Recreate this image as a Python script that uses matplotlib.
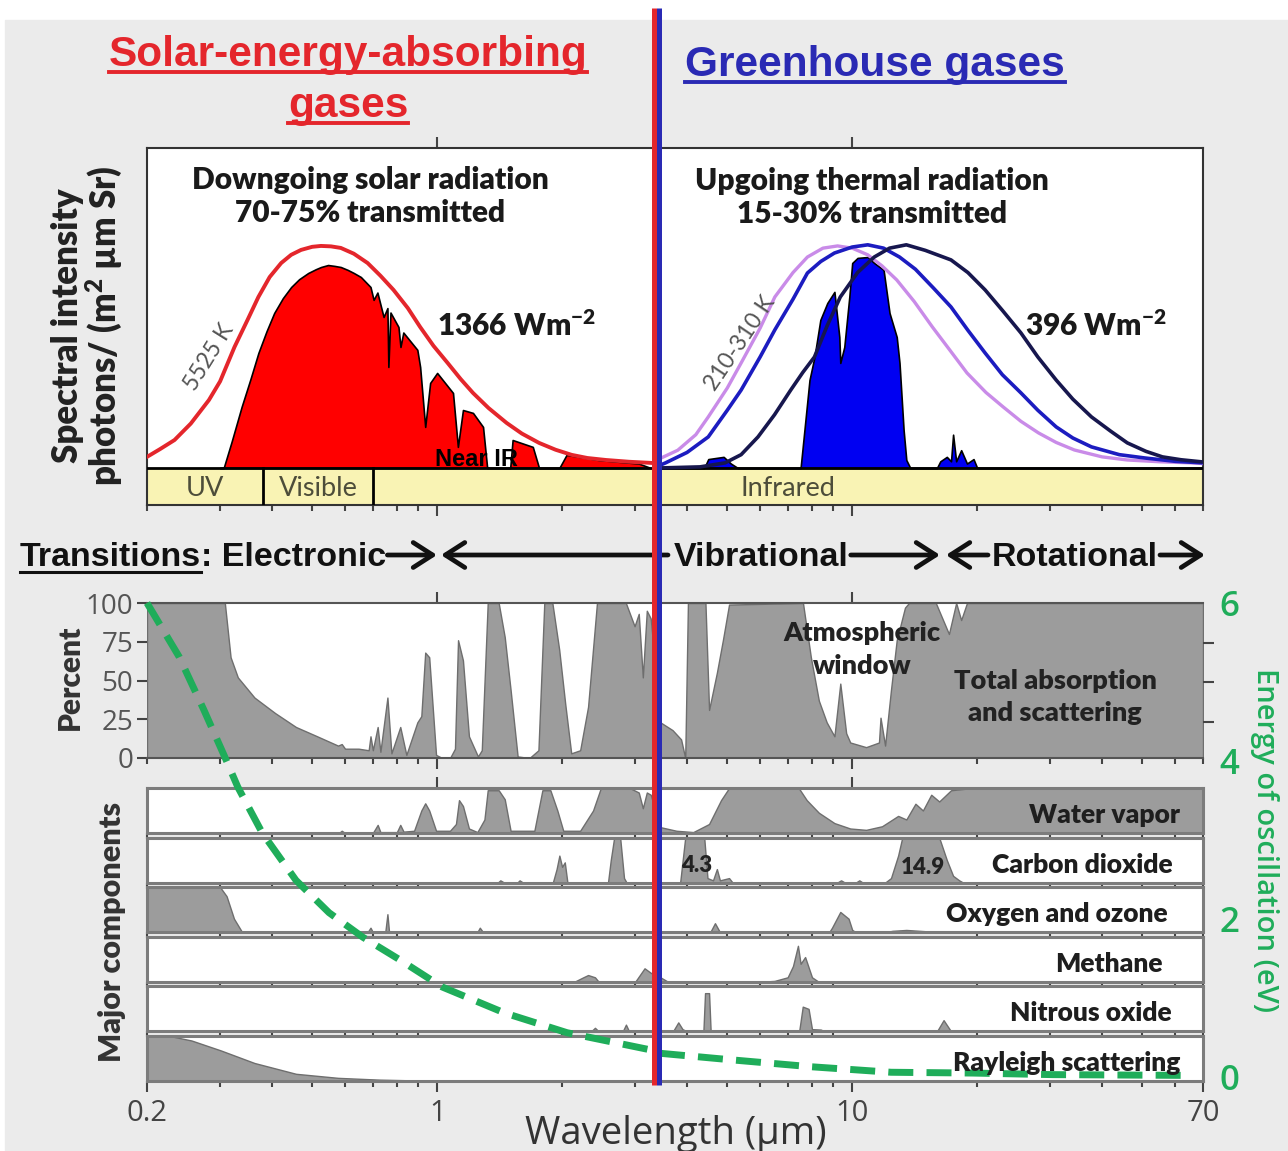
import numpy as np
import matplotlib.pyplot as plt
from matplotlib.lines import Line2D
from matplotlib.patches import Rectangle, FancyArrowPatch

plt.rcParams['font.family'] = ['Lato', 'DejaVu Sans']
plt.rcParams['mathtext.default'] = 'regular'

# ---------------- data (wavelength in micrometres) ----------------
# black-body curves, normalised to peak = 1
sun_bb_wl = [0.2, 0.215, 0.233, 0.255, 0.282, 0.3, 0.325, 0.35, 0.371, 0.395, 0.421, 0.445,
             0.47, 0.5, 0.525, 0.555, 0.586, 0.63, 0.68, 0.73, 0.785, 0.85, 0.91, 0.98, 1.06,
             1.14, 1.22, 1.33, 1.47, 1.6, 1.76, 1.93, 2.11, 2.3, 2.55, 2.9, 3.27]
sun_bb_val = [0.05, 0.085, 0.126, 0.2, 0.306, 0.39, 0.545, 0.67, 0.77, 0.86, 0.923, 0.96,
              0.982, 0.996, 1.0, 0.998, 0.991, 0.965, 0.923, 0.866, 0.802, 0.72, 0.635, 0.55,
              0.473, 0.4, 0.338, 0.27, 0.203, 0.155, 0.113, 0.082, 0.059, 0.045, 0.036, 0.028,
              0.023]

# transmitted solar spectrum
sun_wl = [0.3, 0.306, 0.32, 0.338, 0.355, 0.371, 0.388, 0.405, 0.425, 0.445, 0.465, 0.489,
          0.51, 0.525, 0.546, 0.566, 0.586, 0.609, 0.63, 0.655, 0.691, 0.703, 0.718, 0.743,
          0.759, 0.763, 0.772, 0.807, 0.816, 0.829, 0.896, 0.91, 0.936, 0.962, 1.0, 1.092,
          1.122, 1.154, 1.22, 1.29, 1.32, 1.5, 1.52, 1.7, 1.76, 1.97, 2.05, 2.45, 3.06, 3.27]
sun_val = [0.0, 0.0, 0.12, 0.275, 0.4, 0.518, 0.615, 0.698, 0.765, 0.815, 0.85, 0.878,
           0.895, 0.905, 0.914, 0.91, 0.905, 0.892, 0.878, 0.86, 0.815, 0.757, 0.79, 0.68,
           0.72, 0.455, 0.7, 0.635, 0.545, 0.61, 0.532, 0.455, 0.185, 0.383, 0.428, 0.338,
           0.095, 0.261, 0.248, 0.185, 0.0, 0.0, 0.126, 0.095, 0.0, 0.0, 0.059, 0.036, 0.02,
           0.0]

bb210_wl = [3.42, 3.8, 4.2, 4.5, 5.0, 5.4, 6.0, 6.51, 7.2, 7.8, 8.5, 9.22, 10.0, 10.9, 11.8,
            12.8, 14.1, 15.6, 17.2, 18.9, 21.0, 23.1, 25.5, 28.1, 31.0, 34.3, 40.0, 46.0,
            55.0, 65.5, 70]
bb210_val = [0.04, 0.08, 0.15, 0.23, 0.36, 0.473, 0.63, 0.77, 0.88, 0.95, 0.99, 1.0, 0.99,
             0.96, 0.91, 0.847, 0.75, 0.635, 0.53, 0.428, 0.34, 0.275, 0.21, 0.158, 0.115,
             0.081, 0.05, 0.036, 0.028, 0.023, 0.02]
bb260_wl = [3.42, 3.55, 4.0, 4.5, 5.0, 5.4, 6.0, 6.51, 7.2, 7.8, 8.4, 9.06, 10.0, 10.9, 11.9,
            13.0, 14.2, 15.7, 17.3, 19.0, 20.9, 23.0, 25.5, 28.0, 31.0, 34.0, 37.7, 44.0,
            50.7, 60.0, 70]
bb260_val = [0.01, 0.023, 0.07, 0.14, 0.26, 0.351, 0.5, 0.622, 0.76, 0.878, 0.93, 0.968,
             0.995, 1.005, 0.99, 0.95, 0.895, 0.81, 0.725, 0.62, 0.518, 0.42, 0.338, 0.26,
             0.185, 0.135, 0.095, 0.06, 0.045, 0.03, 0.023]
bb310_wl = [3.42, 4.3, 4.94, 5.4, 5.93, 6.5, 7.11, 7.6, 8.11, 8.7, 9.36, 10.3, 11.3, 12.3,
            13.5, 15.0, 17.3, 19.0, 20.9, 23.0, 25.5, 28.0, 31.0, 34.0, 37.7, 42.0, 46.0,
            51.0, 55.9, 62.0, 70]
bb310_val = [0.0, 0.005, 0.023, 0.06, 0.14, 0.24, 0.351, 0.43, 0.5, 0.64, 0.77, 0.88, 0.95,
             0.99, 1.005, 0.98, 0.937, 0.88, 0.802, 0.71, 0.608, 0.5, 0.396, 0.31, 0.23,
             0.165, 0.113, 0.075, 0.05, 0.037, 0.027]

# transmitted thermal spectrum
ir_wl = [3.42, 4.4, 4.5, 4.9, 5.1, 5.3, 7.51, 7.89, 8.11, 8.38, 8.71, 9.06, 9.31, 9.36,
         9.57, 9.84, 10.0, 10.3, 10.9, 11.3, 11.9, 12.3, 12.8, 13.0, 13.3, 13.5, 13.8, 16.0,
         16.3, 16.9, 17.3, 17.5, 17.8, 18.3, 18.9, 19.6, 20.0, 70]
ir_val = [0.0, 0.0, 0.04, 0.05, 0.02, 0.0, 0.0, 0.396, 0.5, 0.667, 0.743, 0.793, 0.59, 0.473,
          0.545, 0.77, 0.923, 0.946, 0.95, 0.923, 0.892, 0.698, 0.59, 0.473, 0.17, 0.036, 0.0,
          0.0, 0.03, 0.05, 0.03, 0.15, 0.03, 0.08, 0.02, 0.04, 0.0, 0.0]

band_edges = [0.38, 0.70]

# total absorption and scattering (percent)
tot_wl = [0.2, 0.301, 0.308, 0.318, 0.331, 0.363, 0.407, 0.457, 0.514, 0.577, 0.589, 0.6,
          0.647, 0.684, 0.691, 0.7, 0.719, 0.73, 0.759, 0.776, 0.815, 0.843, 0.896, 0.916,
          0.936, 0.957, 0.994, 1.028, 1.074, 1.104, 1.123, 1.154, 1.193, 1.254, 1.281, 1.324,
          1.407, 1.455, 1.503, 1.563, 1.669, 1.754, 1.812, 1.895, 1.968, 2.035, 2.104, 2.211,
          2.31, 2.427, 2.849, 2.99, 3.06, 3.13, 3.2, 3.27, 3.45, 3.69, 3.87, 3.96, 4.02, 4.43,
          4.52, 4.72, 4.88, 5.05, 7.61, 7.95, 8.31, 8.68, 9.06, 9.36, 9.67, 9.89, 10.8, 11.6,
          11.7, 12.0, 12.4, 12.8, 13.4, 13.7, 15.9, 17.1, 17.8, 18.3, 18.9, 70]
tot_val = [100, 100, 100, 65, 52, 39, 29, 20, 14, 8, 9, 6,
           6, 5, 14, 5, 20, 4, 39, 3, 20, 2, 23, 27,
           68, 65, 2, 0, 0, 6, 76, 63, 14, 1, 5, 100,
           100, 78, 44, 1, 0, 5, 100, 100, 70, 35, 3, 5,
           33, 100, 100, 85, 93, 52, 95, 90, 23, 18, 12, 0, 100, 100,
           31, 55, 76, 99, 100, 65, 37, 23, 14, 48, 16, 10, 7, 10,
           26, 8, 44, 76, 97, 100, 100, 80, 100, 89, 100, 100]

# major components (fraction of strip height)
h2o_wl = [0.2, 0.58, 0.589, 0.6, 0.7, 0.719, 0.73, 0.8, 0.815, 0.83, 0.88, 0.916, 0.936,
          0.957, 0.994, 1.074, 1.11, 1.129, 1.154, 1.193, 1.25, 1.3, 1.324, 1.407, 1.455,
          1.503, 1.715, 1.793, 1.874, 1.948, 2.013, 2.211, 2.375, 2.48, 2.91, 3.06, 3.13,
          3.2, 3.27, 3.45, 3.77, 4.14, 4.52, 4.83, 5.05, 7.43, 7.77, 8.31, 9.06, 9.89, 10.8,
          11.8, 12.9, 13.5, 14.2, 14.8, 15.5, 16.2, 17.3, 19.5, 70]
h2o_val = [0, 0, 0.05, 0, 0, 0.18, 0.02, 0.02, 0.18, 0.03, 0.05, 0.5, 0.66,
           0.5, 0.05, 0.05, 0.2, 0.73, 0.6, 0.1, 0.02, 0.3, 0.95, 0.95, 0.75,
           0.05, 0.05, 0.95, 0.95, 0.5, 0.05, 0.05, 0.5, 1.0, 1.0, 0.9, 0.55,
           0.9, 0.85, 0.13, 0.05, 0.02, 0.2, 0.73, 1.0, 1.0, 0.73, 0.45, 0.22, 0.1, 0.07,
           0.15, 0.38, 0.3, 0.65, 0.5, 0.85, 0.7, 0.95, 1.0, 1.0]
co2_wl = [0.2, 1.4, 1.42, 1.45, 1.56, 1.58, 1.61, 1.9, 1.94, 1.97, 2.0, 2.03, 2.06, 2.58,
          2.62, 2.67, 2.76, 2.82, 2.86, 3.85, 3.96, 4.4, 4.48, 4.62, 4.72, 4.8, 5.05, 5.15,
          9.2, 9.4, 9.6, 10.2, 10.4, 10.6, 12.0, 12.4, 12.9, 13.2, 16.2, 16.9, 17.5, 18.1,
          18.5, 70]
co2_val = [0, 0, 0.05, 0, 0, 0.05, 0, 0, 0.3, 0.6, 0.35, 0.45, 0, 0,
           0.5, 1.0, 1.0, 0.1, 0, 0, 1.0, 1.0, 0.1, 0.05, 0.3, 0.05, 0.1, 0,
           0, 0.05, 0, 0, 0.05, 0, 0, 0.1, 0.6, 1.0, 1.0, 0.5, 0.15, 0.05,
           0, 0]
o3_wl = [0.2, 0.3, 0.311, 0.324, 0.338, 0.35, 0.68, 0.691, 0.7, 0.75, 0.759, 0.766, 1.25,
         1.267, 1.29, 4.55, 4.67, 4.8, 8.8, 8.94, 9.36, 9.8, 10.0, 10.2, 12.0, 12.5, 13.5,
         15.1, 15.5, 70]
o3_val = [1.0, 1.0, 0.8, 0.3, 0.02, 0, 0, 0.1, 0, 0, 0.4, 0, 0,
          0.1, 0, 0, 0.2, 0, 0, 0.1, 0.45, 0.3, 0.05, 0, 0, 0.03, 0.05,
          0.02, 0, 0]
ch4_wl = [0.2, 2.14, 2.25, 2.31, 2.4, 2.45, 3.0, 3.16, 3.27, 3.45, 3.6, 6.0, 6.5, 6.99,
          7.2, 7.4, 7.51, 7.7, 8.0, 8.3, 70]
ch4_val = [0, 0, 0.1, 0.15, 0.1, 0, 0, 0.3, 0.2, 0.1, 0, 0, 0.02, 0.1,
           0.35, 0.8, 0.4, 0.55, 0.1, 0, 0]
n2o_wl = [0.2, 2.35, 2.4, 2.45, 2.8, 2.85, 2.9, 3.7, 3.81, 3.9, 4.0, 4.38, 4.42, 4.52,
          4.56, 7.45, 7.6, 7.85, 8.0, 8.4, 8.6, 16.0, 16.6, 17.3, 70]
n2o_val = [0, 0, 0.08, 0, 0, 0.15, 0, 0, 0.2, 0.05, 0, 0, 0.85, 0.85,
           0, 0, 0.55, 0.5, 0.05, 0.04, 0, 0, 0.25, 0, 0]
ray_wl = [0.2, 0.227, 0.256, 0.301, 0.363, 0.457, 0.577, 0.727, 0.916, 1.2, 70]
ray_val = [1.0, 1.0, 0.9, 0.68, 0.4, 0.16, 0.07, 0.03, 0.01, 0, 0]

components = [("Water vapor", h2o_wl, h2o_val),
              ("Carbon dioxide", co2_wl, co2_val),
              ("Oxygen and ozone", o3_wl, o3_val),
              ("Methane", ch4_wl, ch4_val),
              ("Nitrous oxide", n2o_wl, n2o_val),
              ("Rayleigh scattering", ray_wl, ray_val)]
label_right = [1180, 1173, 1168, 1163, 1172, 1180]

# photon energy (eV)
en_wl = [0.2, 0.239, 0.274, 0.308, 0.331, 0.379, 0.457, 0.549, 0.662, 0.815, 1.028, 1.455,
         2.058, 3.29, 3.45, 5.05, 7.95, 12.4, 19.5, 30.4, 65]
en_val = [6.0, 5.32, 4.65, 4.05, 3.67, 3.09, 2.49, 2.08, 1.77, 1.48, 1.14, 0.81,
          0.56, 0.34, 0.3, 0.22, 0.13, 0.06, 0.05, 0.03, 0.02]

# ---------------- figure ----------------
W, H = 1288, 1151
fig = plt.figure(figsize=(W / 100, H / 100), dpi=100)
fig.patch.set_facecolor('white')
fig.add_artist(Rectangle((5 / W, 0), 1, 1 - 20 / H, transform=fig.transFigure,
                         color='#ebebeb', zorder=-10))


def box(l, t, r, b):
    return [l / W, 1 - b / H, (r - l) / W, (b - t) / H]


def put(x, y, s, **kw):
    return fig.text(x / W, 1 - y / H, s, **kw)


def logx(ax):
    ax.set_xscale('log')
    ax.set_xlim(0.2, 70)
    ax.tick_params(which='both', direction='out', colors='#444', labelbottom=False)
    ax.tick_params(which='major', length=8, width=1.5)
    ax.tick_params(which='minor', length=4, width=1.5)


RED = '#e4262c'
BLUE = '#2a2ab4'
GREEN = '#1fad5a'
HEAVY = 'heavy'

# ---- spectra panel ----
ax = fig.add_axes(box(147, 148, 1203, 505))
logx(ax)
ax.set_ylim(-0.1667, 1.441)
ax.set_yticks([])
ax.tick_params(top=True, bottom=True)
for s in ax.spines.values():
    s.set_color('#333')
    s.set_linewidth(1.5)
ax.axhspan(-0.1667, 0, color='#f9f3b4', zorder=1)
ax.axhline(0, color='k', lw=2, zorder=3)
for e in band_edges:
    ax.plot([e, e], [-0.1667, 0], color='k', lw=2, zorder=3)
ax.fill_between(sun_wl, 0, sun_val, facecolor='#ff0000', edgecolor='k', lw=1.2, zorder=2)
ax.plot(sun_bb_wl, sun_bb_val, color=RED, lw=2.8, zorder=4)
ax.fill_between(ir_wl, 0, ir_val, facecolor='#0000f2', edgecolor='k', lw=1.2, zorder=2)
ax.plot(bb210_wl, bb210_val, color='#c98be8', lw=2.4, zorder=4)
ax.plot(bb260_wl, bb260_val, color='#1c1cc0', lw=2.6, zorder=4)
ax.plot(bb310_wl, bb310_val, color='#17174e', lw=2.6, zorder=4)

tk = dict(color='#1a1a1a', fontsize=21.5, fontweight=HEAVY, ha='center', va='center')
put(370, 180, 'Downgoing solar radiation', **tk)
put(370, 213, '70-75% transmitted', **tk)
put(872, 181, 'Upgoing thermal radiation', **tk)
put(872, 214, '15-30% transmitted', **tk)
put(517, 326, '1366 Wm$^{-2}$', **tk)
put(1096, 326, '396 Wm$^{-2}$', **tk)
put(209, 357, '5525 K', color='#555', fontsize=16.5, rotation=58, ha='center', va='center')
put(740, 343, '210-310 K', color='#555', fontsize=16.5, rotation=56, ha='center',
    va='center')
put(476, 459, 'Near IR', family='Liberation Sans', fontweight='bold', fontsize=17,
    ha='center', va='center', color='k', zorder=10)
bk = dict(color='#4d4d3a', fontsize=19.5, ha='center', va='center')
put(205, 488, 'UV', **bk)
put(318, 488, 'Visible', **bk)
put(788, 488, 'Infrared', **bk)

lab = dict(rotation=90, fontsize=25, fontweight=HEAVY, color='#222', ha='center',
           va='center')
put(68, 326, 'Spectral intensity', **lab)
put(104, 326, 'photons/ (m$^2$ µm Sr)', **lab)

# ---- total absorption panel ----
axp = fig.add_axes(box(147, 603, 1203, 758))
logx(axp)
axp.set_ylim(0, 100)
axp.tick_params(top=True, bottom=True)
axp.fill_between(tot_wl, 0, tot_val, facecolor='#9c9c9c', edgecolor='#6e6e6e', lw=1)
axp.set_yticks([0, 25, 50, 75, 100])
axp.tick_params(axis='y', which='major', length=7, width=1.5, labelsize=20,
                labelcolor='#555', pad=3)
for t in axp.get_yticklabels():
    t.set_family(['Open Sans', 'DejaVu Sans'])
for k in ['top', 'bottom']:
    axp.spines[k].set_color('#555')
    axp.spines[k].set_linewidth(1.5)
for k in ['left', 'right']:
    axp.spines[k].set_visible(False)
put(70, 677, 'Percent', rotation=90, fontsize=21.5, fontweight=HEAVY, color='#333',
    ha='center', va='center')
ak = dict(color='#222', fontsize=19.5, fontweight=HEAVY, ha='center', va='center')
put(862, 633, 'Atmospheric', **ak)
put(862, 666, 'window', **ak)
put(1055, 681, 'Total absorption', **ak)
put(1055, 713, 'and scattering', **ak)

# ---- component strips ----
for i, (name, wl, val) in enumerate(components):
    top = 788 + i * 49.6
    axs = fig.add_axes(box(147, top, 1203, top + 45))
    logx(axs)
    axs.set_ylim(0, 1)
    axs.set_yticks([])
    axs.tick_params(top=(i == 0), bottom=(i == len(components) - 1))
    axs.fill_between(wl, 0, val, facecolor='#9c9c9c', edgecolor='#6e6e6e', lw=1)
    for s in axs.spines.values():
        s.set_color('#7c7c7c')
        s.set_linewidth(2.2)
    put(label_right[i], top + 27, name, color='#1e1e1e', fontsize=19, fontweight=HEAVY,
        ha='right', va='center', zorder=5)
    if i == len(components) - 1:
        axs.set_xticks([0.2, 1, 10, 70])
        axs.set_xticklabels(['0.2', '1', '10', '70'])
        axs.tick_params(axis='x', which='major', labelbottom=True, labelsize=21,
                        labelcolor='#444', pad=5)
        for t in axs.get_xticklabels():
            t.set_family(['Open Sans', 'DejaVu Sans'])
put(697, 866, '4.3', color='#222', fontsize=16, fontweight=HEAVY, ha='center',
    va='center', zorder=5)
put(923, 868, '14.9', color='#222', fontsize=16, fontweight=HEAVY, ha='center',
    va='center', zorder=5)
put(112, 932, 'Major components', rotation=90, fontsize=22, fontweight=HEAVY,
    color='#333', ha='center', va='center')
put(676, 1134, 'Wavelength (μm)', family=['Open Sans', 'DejaVu Sans'], fontsize=27.5,
    color='#333', ha='center', va='center')

# ---- energy of oscillation ----
axe = fig.add_axes(box(147, 603, 1203, 1077))
axe.patch.set_visible(False)
axe.set_xscale('log')
axe.set_xlim(0.2, 70)
axe.set_ylim(0, 6)
axe.plot(en_wl, en_val, color=GREEN, lw=5, ls=(0, (3.6, 1.9)), solid_capstyle='butt',
         clip_on=False)
for s in axe.spines.values():
    s.set_visible(False)
axe.set_xticks([])
axe.xaxis.set_minor_locator(plt.NullLocator())
axe.yaxis.tick_right()
axe.set_yticks([0, 2, 4, 6])
axe.set_yticks([4, 4.5, 5, 5.5, 6], minor=True)
axe.tick_params(axis='y', which='major', length=0, pad=12, labelsize=25,
                labelcolor=GREEN)
axe.tick_params(axis='y', which='minor', length=8, width=1.5, color='#444')
for t in axe.get_yticklabels():
    t.set_family(['Open Sans', 'DejaVu Sans'])
    t.set_fontweight('semibold')
put(1264, 840, 'Energy of oscillation (eV)', rotation=-90, color=GREEN, fontsize=21,
    family=['Open Sans', 'DejaVu Sans'], fontweight='semibold', ha='center', va='center')

# ---- headings ----
fig.canvas.draw()
rend = fig.canvas.get_renderer()


def underline(t, off, lw):
    bb = t.get_window_extent(rend)
    y = (t.get_position()[1] * H - off) / H
    fig.add_artist(Line2D([bb.x0 / W, bb.x1 / W], [y, y], color=t.get_color(), lw=lw,
                          transform=fig.transFigure))


hk = dict(family=['Liberation Sans', 'DejaVu Sans'], fontweight='bold', fontsize=30.5,
          ha='center', va='baseline')
t1 = put(348, 66, 'Solar-energy-absorbing', color=RED, **hk)
t2 = put(348, 117, 'gases', color=RED, **hk)
t3 = put(875, 76, 'Greenhouse gases', color=BLUE, **hk)
for t in (t1, t2, t3):
    underline(t, 6, 2.8)

# ---- transitions row ----
tr = dict(family=['Liberation Sans', 'DejaVu Sans'], fontweight='bold', fontsize=24.5,
          color='#111', va='baseline')
ty = 566
ta = put(20, ty, 'Transitions', **tr)
underline(ta, 6, 2.2)
te = put(ta.get_window_extent(rend).x1, ty, ': Electronic', **tr)
tv = put(674, ty, 'Vibrational', **tr)
trt = put(992, ty, 'Rotational', **tr)
e_end = te.get_window_extent(rend).x1
v_end = tv.get_window_extent(rend).x1
r_end = trt.get_window_extent(rend).x1
arrows = [(e_end + 1, 437), (668, 441), (v_end + 2, 940), (988, 946), (r_end + 2, 1205)]
for x0, x1 in arrows:
    fig.add_artist(FancyArrowPatch(
        (x0 / W, 1 - 555 / H), (x1 / W, 1 - 555 / H), transform=fig.transFigure,
        arrowstyle='->,head_length=0.7,head_width=0.45', lw=3.4, color='#111',
        mutation_scale=20, shrinkA=0, shrinkB=0))

# ---- red / blue divider ----
fig.add_artist(Line2D([653.5 / W] * 2, [1 - 8 / H, 1 - 1085 / H], color=RED, lw=3.6,
                      transform=fig.transFigure, solid_capstyle='butt'))
fig.add_artist(Line2D([658.5 / W] * 2, [1 - 8 / H, 1 - 1085 / H], color=BLUE, lw=3.6,
                      transform=fig.transFigure, solid_capstyle='butt'))

fig.savefig('out.png', dpi=100)
